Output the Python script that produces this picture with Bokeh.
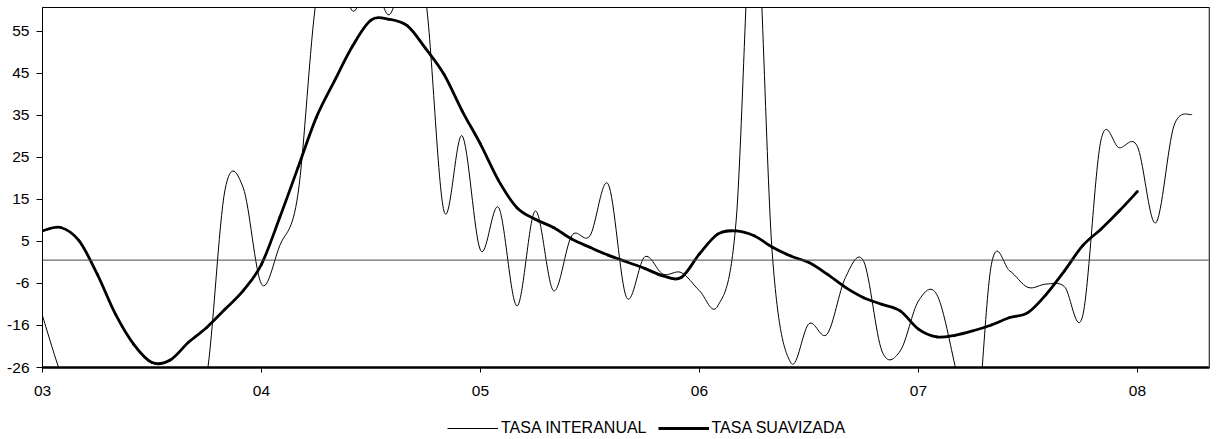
from bokeh.plotting import figure
from bokeh.layouts import column
from bokeh.models import Range1d, FixedTicker, Span, Legend, LegendItem, ColumnDataSource
from bokeh.embed import file_html
from bokeh.resources import INLINE

# x tick labels (years, January of each)
years = ["03", "04", "05", "06", "07", "08"]
year_ticks = [0, 12, 24, 36, 48, 60]

# Monthly values, Jan 2003 onward
tasa_interanual = [
    -13.5, -27.5, -38.0, -45.0, -50.0, -52.0, -48.0, -42.0, -36.0, -28.0,
    17.0, 17.5, -5.8, 3.5, 16.0, 63.0, 74.0, 60.3, 69.0, 59.4,
    72.0, 63.0, 11.9, 30.1, 2.4, 12.7, -11.1, 11.9, -7.4, 5.9,
    5.9, 18.4, -9.0, 0.8, -3.4, -3.0, -7.4, -11.1, 9.0, 90.0,
    1.0, -24.8, -15.4, -17.9, -4.2, -0.3, -22.0, -22.0, -9.9, -8.3,
    -25.5, -48.0, -1.0, -2.6, -6.6, -5.8, -6.4, -13.5, 29.0, 27.2,
    27.5, 9.0, 32.5, 35.3,
]
tasa_suavizada = [
    7.1, 7.9, 4.7, -3.4, -13.1, -20.4, -24.8, -24.2, -19.9, -16.3,
    -11.9, -7.4, -1.0, 10.3, 22.4, 34.5, 43.4, 51.9, 58.1, 58.3,
    56.7, 51.2, 45.0, 36.1, 28.1, 19.2, 12.7, 9.9, 7.9, 5.1,
    3.1, 1.2, -0.4, -2.0, -3.8, -4.2, 1.5, 6.3, 7.1, 5.9,
    3.1, 1.0, -0.6, -3.4, -6.6, -9.1, -10.7, -12.3, -16.7, -18.6,
    -18.2, -17.1, -15.7, -13.9, -12.7, -8.3, -2.6, 3.5, 7.5, 11.9,
    16.6,
]

# y axis: evenly spaced ticks, labels shown rounded
y_tick_labels = ["-26", "-16", "-6", "5", "15", "25", "35", "45", "55"]
y_min = -26.0
y_step = 10.17
y_max = 61.17
x_max = 63.95

y_ticks = [round(y_min + k * y_step, 2) for k in range(len(y_tick_labels))]

m_int = list(range(len(tasa_interanual)))
m_suav = list(range(len(tasa_suavizada)))


def smooth_segments(ys):
    """Bezier segments through the monthly points (smoothed-line style)."""
    xs = list(range(len(ys)))
    n = len(ys)
    d = dict(x0=[], y0=[], x1=[], y1=[], cx0=[], cy0=[], cx1=[], cy1=[])
    for i in range(n - 1):
        pm = max(i - 1, 0)
        pn = min(i + 2, n - 1)
        d["x0"].append(xs[i]); d["y0"].append(ys[i])
        d["x1"].append(xs[i + 1]); d["y1"].append(ys[i + 1])
        d["cx0"].append(xs[i] + (xs[i + 1] - xs[pm]) / 6)
        d["cy0"].append(ys[i] + (ys[i + 1] - ys[pm]) / 6)
        d["cx1"].append(xs[i + 1] - (xs[pn] - xs[i]) / 6)
        d["cy1"].append(ys[i + 1] - (ys[pn] - ys[i]) / 6)
    return ColumnDataSource(d)


FONT = "Liberation Sans"
W = 1211

p = figure(width=W, height=400, output_backend="svg", toolbar_location=None,
           x_range=Range1d(0, x_max), y_range=Range1d(y_min, y_max),
           min_border_left=42, min_border_right=2, min_border_top=7,
           min_border_bottom=33)
p.background_fill_color = "white"
p.border_fill_color = "white"
p.outline_line_color = "black"
p.outline_line_width = 1
p.xgrid.visible = False
p.ygrid.visible = False

zero = Span(location=0, dimension="width", line_color="#444444", line_width=1)
p.add_layout(zero)

p.bezier(x0="x0", y0="y0", x1="x1", y1="y1", cx0="cx0", cy0="cy0",
         cx1="cx1", cy1="cy1", source=smooth_segments(tasa_interanual),
         line_color="black", line_width=1)
p.bezier(x0="x0", y0="y0", x1="x1", y1="y1", cx0="cx0", cy0="cy0",
         cx1="cx1", cy1="cy1", source=smooth_segments(tasa_suavizada),
         line_color="black", line_width=2.8, line_cap="round")

right_border = Span(location=x_max, dimension="height", line_color="#808080",
                    line_width=2)
p.add_layout(right_border)

# x axis
p.xaxis.ticker = FixedTicker(ticks=year_ticks)
p.xaxis.major_label_overrides = {t: l for t, l in zip(year_ticks, years)}
p.xaxis.axis_line_color = "black"
p.xaxis.axis_line_width = 2.5
p.xaxis.major_tick_out = 5
p.xaxis.major_tick_in = 0
p.xaxis.minor_tick_line_color = None
p.xaxis.major_label_standoff = 13
p.xaxis.major_label_text_font = FONT
p.xaxis.major_label_text_font_size = "15.5px"
p.xaxis.major_label_text_color = "black"

# y axis
p.yaxis.ticker = FixedTicker(ticks=y_ticks)
p.yaxis.major_label_overrides = {t: l for t, l in zip(y_ticks, y_tick_labels)}
p.yaxis.axis_line_color = "black"
p.yaxis.axis_line_width = 1
p.yaxis.major_tick_out = 6
p.yaxis.major_tick_in = 0
p.yaxis.minor_tick_line_color = None
p.yaxis.major_label_standoff = 7
p.yaxis.major_label_text_font = FONT
p.yaxis.major_label_text_font_size = "15.5px"
p.yaxis.major_label_text_color = "black"

# legend strip below the chart (its view range holds none of the data,
# the two lines only serve as legend swatches)
pl = figure(width=W, height=38, output_backend="svg", toolbar_location=None,
            x_range=Range1d(-3, -2), y_range=Range1d(-3, -2),
            x_axis_location=None, y_axis_location=None,
            min_border_left=0, min_border_right=0, min_border_top=0,
            min_border_bottom=0)
pl.outline_line_color = None
pl.xgrid.visible = False
pl.ygrid.visible = False
r1 = pl.line(m_int, tasa_interanual, line_color="black", line_width=1)
r2 = pl.line(m_suav, tasa_suavizada, line_color="black", line_width=2.8)
legend = Legend(
    items=[LegendItem(label="TASA INTERANUAL", renderers=[r1]),
           LegendItem(label="TASA SUAVIZADA", renderers=[r2])],
    location=(405, 1), orientation="horizontal", padding=0, margin=0,
    spacing=11, label_standoff=3, glyph_width=51, glyph_height=16,
    label_height=16, label_text_font=FONT, label_text_font_size="16px",
    label_text_color="black", border_line_color=None, background_fill_alpha=0)
pl.add_layout(legend, "center")

layout = column(p, pl, spacing=0)
open("out.html", "w").write(file_html(layout, INLINE))
